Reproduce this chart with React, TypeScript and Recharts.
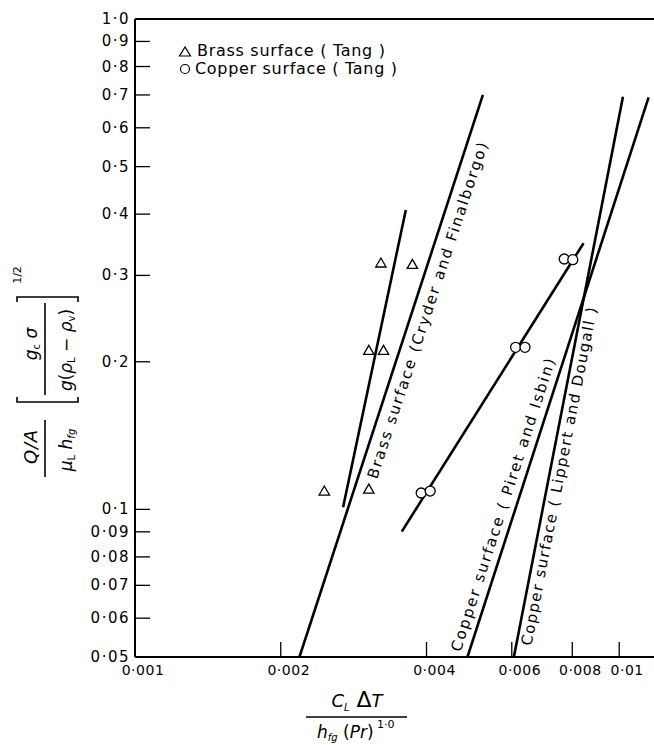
import React from "react";
import { ScatterChart, Scatter, XAxis, YAxis, ReferenceLine, ReferenceDot, Legend } from "recharts";

// tick values and their printed labels
const xTicks = [0.001, 0.002, 0.004, 0.006, 0.008, 0.01];
const xTickLabels = ["0·001", "0·002", "0·004", "0·006", "0·008", "0·01"];
const yTicks = [0.05, 0.06, 0.07, 0.08, 0.09, 0.1, 0.2, 0.3, 0.4, 0.5, 0.6, 0.7, 0.8, 0.9, 1.0];
const yTickLabels = ["0·05", "0·06", "0·07", "0·08", "0·09", "0·1", "0·2", "0·3", "0·4", "0·5", "0·6", "0·7", "0·8", "0·9", "1·0"];

// Tang's data points
const brassTang = [
  { x: 0.00322, y: 0.318 },
  { x: 0.00374, y: 0.316 },
  { x: 0.00304, y: 0.211 },
  { x: 0.00326, y: 0.211 },
  { x: 0.00246, y: 0.109 },
  { x: 0.00304, y: 0.11 },
];
const copperTang = [
  { x: 0.0077, y: 0.324 },
  { x: 0.00802, y: 0.323 },
  { x: 0.00611, y: 0.214 },
  { x: 0.00639, y: 0.214 },
  { x: 0.0039, y: 0.108 },
  { x: 0.00407, y: 0.109 },
];

// correlation lines (end points)
const brassFit = [{ x: 0.00269, y: 0.101 }, { x: 0.003625, y: 0.408 }];
const copperFit = [{ x: 0.003556, y: 0.0901 }, { x: 0.00844, y: 0.349 }];
const cryderLine = [{ x: 0.002186, y: 0.05 }, { x: 0.00523, y: 0.7 }];
const piretLine = [{ x: 0.00486, y: 0.05 }, { x: 0.0115, y: 0.692 }];
const lippertLine = [{ x: 0.00606, y: 0.05 }, { x: 0.01018, y: 0.694 }];

// line captions and where they sit (data coords)
const captionText = [
  "Brass surface (Cryder and Finalborgo)",
  "Copper surface ( Piret and Isbin)",
  "Copper surface ( Lippert and Dougall )",
];
const captionX = [0.00402, 0.00576, 0.00752];
const captionY = [0.2544, 0.1021, 0.1167];
const captionAngle = [-71.7, -72, -79];
const captionLen = [353, 307, 344];

const legendItems = ["Brass surface ( Tang )", "Copper surface ( Tang )"];

const FONT = "DejaVu Sans";

const XTick = (p: any) => {
  const { x, y, payload } = p;
  const i = xTicks.indexOf(payload.value);
  return (
    <g>
      {i > 0 && <line x1={x} x2={x} y1={y} y2={y - 15} stroke="#000" strokeWidth={1.3} />}
      <text x={x + 8} y={y + 18} textAnchor="middle" fontSize={14} fontFamily={FONT} letterSpacing={0.5} fill="#000">
        {xTickLabels[i]}
      </text>
    </g>
  );
};

const YTick = (p: any) => {
  const { x, y, payload } = p;
  const i = yTicks.indexOf(payload.value);
  return (
    <g>
      <line x1={x} x2={x + 15} y1={y} y2={y} stroke="#000" strokeWidth={1.3} />
      <text x={x - 5} y={y} textAnchor="end" dominantBaseline="central" fontSize={15} fontFamily={FONT} letterSpacing={1.5} fill="#000">
        {yTickLabels[i]}
      </text>
    </g>
  );
};

const Tri = (p: any) => {
  const { cx, cy } = p;
  return (
    <polygon
      points={`${cx},${cy - 5} ${cx - 5.2},${cy + 4} ${cx + 5.2},${cy + 4}`}
      fill="#fff"
      stroke="#000"
      strokeWidth={1.3}
    />
  );
};

const Circ = (p: any) => <circle cx={p.cx} cy={p.cy} r={5} fill="#fff" stroke="#000" strokeWidth={1.3} />;

const NoDot = () => <g />;

const XLabel = (p: any) => {
  const vb = p.viewBox;
  const cx = vb.x + 222;
  return (
    <g fontFamily={FONT} fill="#000">
      <text x={cx} y={707} textAnchor="middle" fontSize={18}>
        <tspan fontStyle="italic">C</tspan>
        <tspan fontSize={10} dy={4} fontStyle="italic">L</tspan>
        <tspan dy={-4} fontSize={22}> Δ</tspan>
        <tspan fontStyle="italic">T</tspan>
      </text>
      <line x1={vb.x + 171} x2={vb.x + 272} y1={717} y2={717} stroke="#000" strokeWidth={1.6} />
      <text x={vb.x + 182} y={738} fontSize={17}>
        <tspan fontStyle="italic">h</tspan>
        <tspan fontSize={10} dy={3} fontStyle="italic">fg</tspan>
        <tspan dy={-3}> (</tspan>
        <tspan fontStyle="italic">Pr</tspan>
        <tspan>)</tspan>
        <tspan fontSize={11} dy={-10}> 1·0</tspan>
      </text>
    </g>
  );
};

const YLabel = (p: any) => {
  const vb = p.viewBox;
  const cx = vb.x + 45;
  const cy = 371;
  return (
    <g transform={`translate(${cx},${cy}) rotate(-90)`} fontFamily={FONT} fill="#000">
      <text x={-76} y={-8} textAnchor="middle" fontSize={18} fontStyle="italic" textLength={34}>
        Q / A
      </text>
      <line x1={-106} x2={-49} y1={0} y2={0} stroke="#000" strokeWidth={1.6} />
      <text x={-79} y={27} textAnchor="middle" fontSize={17}>
        <tspan fontStyle="italic">μ</tspan>
        <tspan fontSize={10} dy={3}>L</tspan>
        <tspan dy={-3} fontStyle="italic"> h</tspan>
        <tspan fontSize={10} dy={3} fontStyle="italic">fg</tspan>
      </text>
      <path d="M -26 -28 L -31 -28 L -31 33 L -26 33" fill="none" stroke="#000" strokeWidth={1.6} />
      <text x={27} y={-8} textAnchor="middle" fontSize={17}>
        <tspan fontStyle="italic">g</tspan>
        <tspan fontSize={10} dy={3}>c</tspan>
        <tspan dy={-3} fontStyle="italic"> σ</tspan>
      </text>
      <line x1={-24} x2={68} y1={0} y2={0} stroke="#000" strokeWidth={1.6} />
      <text x={21} y={27} textAnchor="middle" fontSize={17}>
        <tspan fontStyle="italic">g</tspan>
        <tspan>(</tspan>
        <tspan fontStyle="italic">ρ</tspan>
        <tspan fontSize={10} dy={3}>L</tspan>
        <tspan dy={-3}> − </tspan>
        <tspan fontStyle="italic">ρ</tspan>
        <tspan fontSize={10} dy={3}>v</tspan>
        <tspan dy={-3}>)</tspan>
      </text>
      <path d="M 69 -28 L 74 -28 L 74 33 L 69 33" fill="none" stroke="#000" strokeWidth={1.6} />
      <text x={96} y={-24} textAnchor="middle" fontSize={11}>
        1/2
      </text>
    </g>
  );
};

const Caption = ({ viewBox, i }: any) => {
  const { x, y } = viewBox;
  return (
    <text
      x={x}
      y={y}
      transform={`rotate(${captionAngle[i]} ${x} ${y})`}
      textAnchor="middle"
      dominantBaseline="central"
      fontSize={15}
      fontFamily={FONT}
      textLength={captionLen[i]}
      lengthAdjust="spacing"
      fill="#000"
    >
      {captionText[i]}
    </text>
  );
};

const LegendBox = () => (
  <svg width={240} height={42}>
    <g fontFamily={FONT} fontSize={16} fill="#000">
      <polygon points="9,9 3.5,18 14.5,18" fill="none" stroke="#000" strokeWidth={1.2} />
      <text x={21} y={18} textLength={188}>{legendItems[0]}</text>
      <circle cx={9} cy={31} r={4.5} fill="none" stroke="#000" strokeWidth={1.2} />
      <text x={19} y={36} textLength={202}>{legendItems[1]}</text>
    </g>
  </svg>
);

export default function App() {
  return (
    <div style={{ position: "absolute", left: 0, top: 0, width: 654, height: 745, overflow: "hidden", background: "#fff" }}>
      <ScatterChart width={654} height={745} margin={{ top: 19, right: 0, bottom: 0, left: 0 }}>
        <XAxis
          type="number"
          dataKey="x"
          scale="log"
          domain={[0.001, 0.0118]}
          allowDataOverflow
          ticks={xTicks}
          interval={0}
          tick={<XTick />}
          tickLine={false}
          tickSize={0}
          tickMargin={0}
          height={88}
          axisLine={{ stroke: "#000", strokeWidth: 2 }}
          label={{ content: XLabel }}
        />
        <YAxis
          type="number"
          dataKey="y"
          scale="log"
          domain={[0.05, 1]}
          allowDataOverflow
          ticks={yTicks}
          interval={0}
          tick={<YTick />}
          tickLine={false}
          tickSize={0}
          tickMargin={0}
          width={135}
          axisLine={{ stroke: "#000", strokeWidth: 2 }}
          label={{ content: YLabel }}
        />
        <ReferenceLine y={1} stroke="#000" strokeWidth={2} />
        <Legend
          verticalAlign="middle"
          align="center"
          layout="horizontal"
          wrapperStyle={{ left: 176, top: 38, width: 240, height: 42 }}
          content={() => <LegendBox />}
        />
        {[brassFit, copperFit, cryderLine, piretLine, lippertLine].map((seg, k) => (
          <Scatter
            key={k}
            data={seg}
            line={{ stroke: "#000", strokeWidth: 2.6 }}
            shape={NoDot}
            legendType="none"
            isAnimationActive={false}
          />
        ))}
        <Scatter data={brassTang} shape={Tri} legendType="none" isAnimationActive={false} />
        <Scatter data={copperTang} shape={Circ} legendType="none" isAnimationActive={false} />
        {captionText.map((_, i) => (
          <ReferenceDot
            key={i}
            x={captionX[i]}
            y={captionY[i]}
            r={0}
            fill="none"
            stroke="none"
            label={(lp: any) => <Caption viewBox={lp.viewBox} i={i} />}
          />
        ))}
      </ScatterChart>
    </div>
  );
}
